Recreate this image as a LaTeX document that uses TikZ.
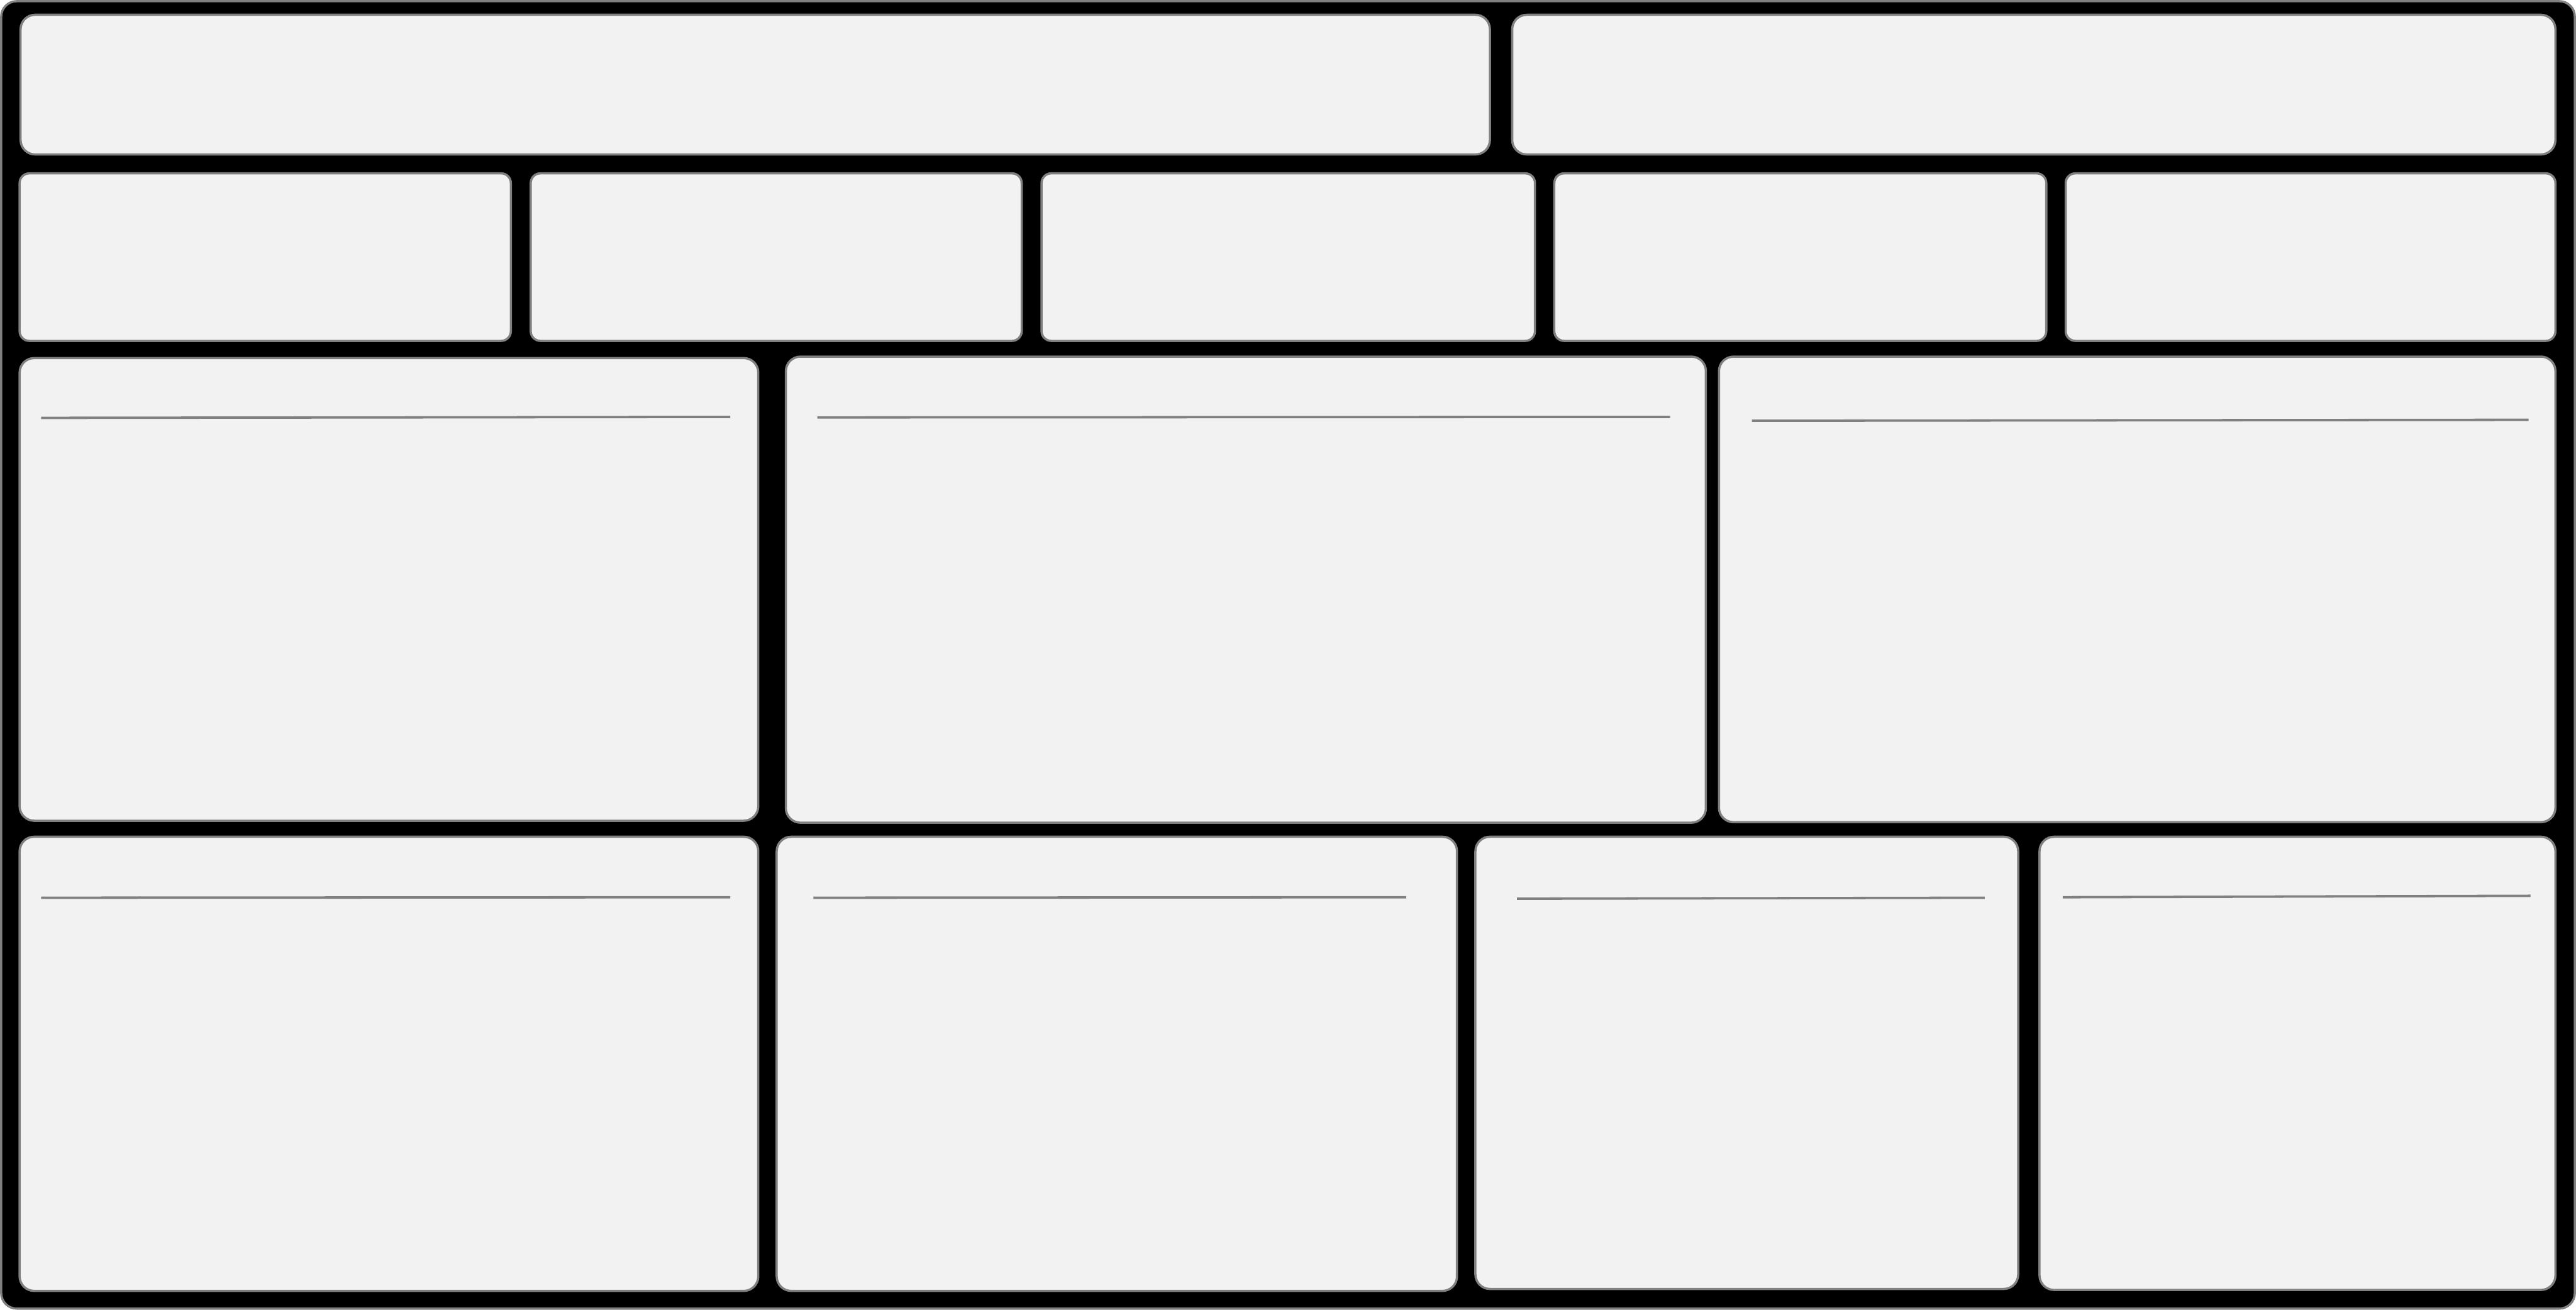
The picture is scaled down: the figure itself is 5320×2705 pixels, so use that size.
\documentclass[tikz,border=0pt]{standalone}
\usepackage{xcolor}
\usepackage{tikz}
\definecolor{panelbg}{HTML}{F2F2F2}
\definecolor{edgec}{HTML}{808080}
\tikzset{
  frame/.style={fill=black,draw=edgec,line width=1.3pt,rounded corners=0.32cm},
  panel/.style={fill=panelbg,draw=edgec,line width=1.3pt,rounded corners=0.3cm},
  tabbox/.style={panel,rounded corners=0.2cm},
  hrule/.style={draw=edgec,line width=1.4pt}
}
\begin{document}
\begin{tikzpicture}[x=0.01cm,y=-0.01cm]
\useasboundingbox (0,0) rectangle (5320,2705);
\draw[frame] (2.5,2.5) rectangle (5317.5,2702.5);
% top row
\draw[panel] (42.5,30.5) rectangle (3077,319);
\draw[panel] (3123,30.5) rectangle (5277.5,319);
% five tabs
\foreach \xa/\xb in {40.5/1055, 1096/2110, 2151/3170, 3210/4226, 4266/5277.5}{
  \draw[tabbox] (\xa,358) rectangle (\xb,704);
}
% third row
\draw[panel] (40.5,739.5) rectangle (1566,1695);
\draw[panel] (1623,736.5) rectangle (3523,1699);
\draw[panel] (3550,736.5) rectangle (5277.5,1698);
\draw[hrule] (85,863) -- (1508,861);
\draw[hrule] (1688,862) -- (3449,861);
\draw[hrule] (3618,869) -- (5222,867);
% bottom row
\draw[panel] (40.5,1728) rectangle (1566,2666);
\draw[panel] (1604,1728) rectangle (3009,2666);
\draw[panel] (3047,1728) rectangle (4168,2662);
\draw[panel] (4212,1728) rectangle (5277.5,2664);
\draw[hrule] (85,1854) -- (1508,1853);
\draw[hrule] (1680,1854) -- (2904,1853);
\draw[hrule] (3133,1856) -- (4099,1854);
\draw[hrule] (4260,1853) -- (5226,1850);
\end{tikzpicture}
\end{document}
